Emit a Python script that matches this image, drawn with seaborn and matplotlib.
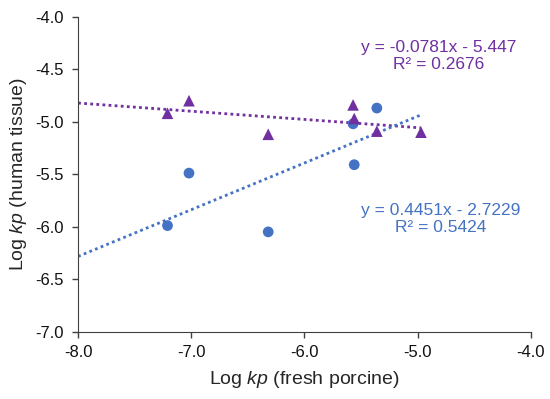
import matplotlib
matplotlib.use("Agg")
import matplotlib.pyplot as plt
import seaborn as sns
import numpy as np
import pandas as pd

# fresh porcine vs human tissue, two series
blue_x = [-7.21, -7.02, -6.32, -5.57, -5.56, -5.36]
blue_y = [-5.99, -5.49, -6.05, -5.02, -5.41, -4.87]
purple_x = [-7.21, -7.02, -6.32, -5.57, -5.56, -5.36, -4.97]
purple_y = [-4.92, -4.80, -5.12, -4.84, -4.97, -5.09, -5.10]

# trendline coefficients (slope, intercept) and R^2 as printed
blue_fit = (0.4451, -2.7229, 0.5424)
purple_fit = (-0.0781, -5.447, 0.2676)
trend_range = [-8.0, -4.97]

x_ticks = [-8.0, -7.0, -6.0, -5.0, -4.0]
y_ticks = [-7.0, -6.5, -6.0, -5.5, -5.0, -4.5, -4.0]

BLUE = "#4472C4"
PURPLE = "#7030A0"

sns.set_style("ticks")
plt.rcParams['font.family'] = ['Liberation Sans', 'DejaVu Sans']
plt.rcParams['mathtext.fontset'] = 'custom'
plt.rcParams['mathtext.it'] = 'Liberation Sans:italic'
plt.rcParams['mathtext.rm'] = 'Liberation Sans'

fig = plt.figure(figsize=(5.5, 3.99), dpi=100)
ax = fig.add_axes([0.142, 0.169, 0.823, 0.789])

# trendlines
tx = np.array(trend_range)
for (m, b, _), col in [(purple_fit, PURPLE), (blue_fit, BLUE)]:
    line_df = pd.DataFrame({"x": tx, "y": m * tx + b})
    sns.lineplot(data=line_df, x="x", y="y", ax=ax, color=col, lw=2.0,
                 linestyle=(0, (1, 1.2)), zorder=2)

sns.scatterplot(x=blue_x, y=blue_y, ax=ax, color=BLUE, marker="o", s=60,
                edgecolor="none", zorder=3)
sns.scatterplot(x=purple_x, y=purple_y, ax=ax, color=PURPLE, marker="^", s=70,
                edgecolor="none", zorder=3)

ax.set_xlim(-8, -4)
ax.set_ylim(-7, -4)
ax.set_xticks(x_ticks)
ax.set_yticks(y_ticks)
ax.set_xticklabels([f"{v:.1f}" for v in x_ticks], fontsize=12)
ax.set_yticklabels([f"{v:.1f}" for v in y_ticks], fontsize=12)
ax.tick_params(length=4, width=1, color="#404040", labelcolor="#111111", pad=6)
for side in ["left", "bottom"]:
    ax.spines[side].set_color("#404040")
sns.despine(ax=ax)

ax.set_xlabel(r"Log $\it{kp}$ (fresh porcine)", fontsize=14, labelpad=6)
ax.set_ylabel(r"Log $\it{kp}$ (human tissue)", fontsize=14, labelpad=5)

# trendline equations
ax.text(-4.81, -4.372, f"y = {purple_fit[0]}x - {abs(purple_fit[1])}\nR² = {purple_fit[2]}",
        color=PURPLE, fontsize=12.5, ha="center", va="center", linespacing=1.2)
ax.text(-4.80, -5.93, f"y = {blue_fit[0]}x - {abs(blue_fit[1])}\nR² = {blue_fit[2]}",
        color=BLUE, fontsize=12.5, ha="center", va="center", linespacing=1.2)

plt.savefig("out.png", dpi=100)
